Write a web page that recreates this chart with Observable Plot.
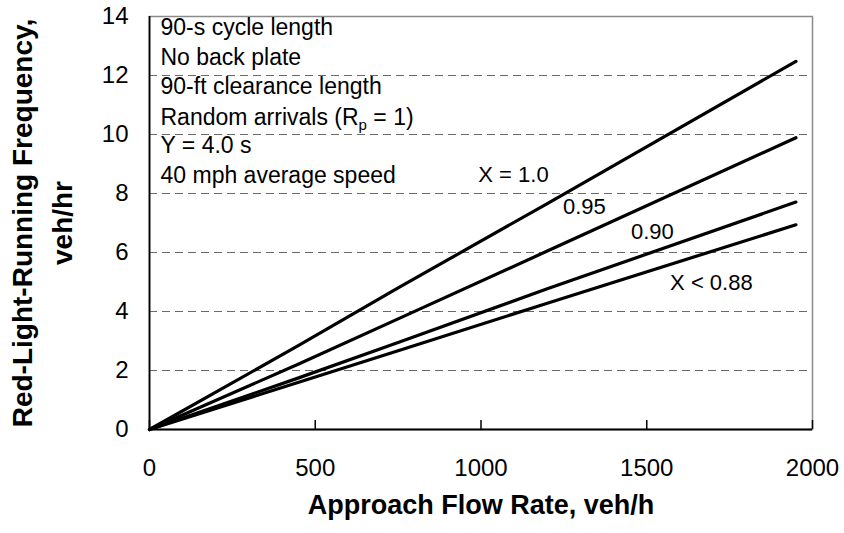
<!DOCTYPE html>
<html>
<head>
<meta charset="utf-8">
<script src="https://cdn.jsdelivr.net/npm/d3@7"></script>
<script src="https://cdn.jsdelivr.net/npm/@observablehq/plot@0.6"></script>
<style>
  html, body { margin: 0; padding: 0; background: #fff; }
  #chart { width: 844px; height: 533px; }
</style>
</head>
<body>
<div id="chart"></div>
<script>
// ---- data ----
const flowRate = [0, 450, 750, 1200, 1950];
const seriesNames = ["X = 1.0", "X = 0.95", "X = 0.90", "X < 0.88"];
const rlrX100 = [0, 2.85, 4.8, 7.66, 12.48];
const rlrX095 = [0, 2.22, 3.75, 6.05, 9.89];
const rlrX090 = [0, 1.75, 2.95, 4.77, 7.71];
const rlrX088 = [0, 1.6, 2.67, 4.28, 6.94];

const curveLabels = ["X = 1.0", "0.95", "0.90", "X < 0.88"];
const curveLabelX = [1098, 1312, 1517, 1695];
const curveLabelY = [8.64, 7.56, 6.68, 4.98];

const notesText = ["90-s cycle length", "No back plate", "90-ft clearance length",
                   "Random arrivals (Rp = 1)", "Y = 4.0 s", "40 mph average speed"];
const notesY = [13.63, 12.61, 11.63, 10.58, 9.63, 8.61];

const xTicks = [0, 500, 1000, 1500, 2000];
const yTicks = [0, 2, 4, 6, 8, 10, 12, 14];
const gridY = [2, 4, 6, 8, 10, 12];

const xLabel = "Approach Flow Rate, veh/h";
const yLabel1 = "Red-Light-Running Frequency,";
const yLabel2 = "veh/hr";

// ---- build tables ----
const allSeries = [rlrX100, rlrX095, rlrX090, rlrX088];
const rows = [];
allSeries.forEach((vals, i) => vals.forEach((v, j) => rows.push({series: seriesNames[i], flow: flowRate[j], rlr: v})));
const labelRows = curveLabels.map((t, i) => ({text: t, x: curveLabelX[i], y: curveLabelY[i]}));
const noteRows = notesText.map((t, i) => ({text: t, y: notesY[i]}));

const FONT = "'Liberation Sans', Arial, Helvetica, sans-serif";

const plot = Plot.plot({
  width: 844,
  height: 533,
  marginLeft: 149,
  marginRight: 32,
  marginTop: 16,
  marginBottom: 104,
  style: {fontFamily: FONT, fontSize: "22px", background: "#fff", color: "#000"},
  x: {domain: [0, 2000], axis: null},
  y: {domain: [0, 14], axis: null},
  marks: [
    Plot.ruleY(gridY, {stroke: "#6a6a6a", strokeWidth: 1.2, strokeDasharray: "8,5"}),
    Plot.frame({stroke: "#8a8a8a", strokeWidth: 1.5}),
    Plot.ruleX([0], {stroke: "#000", strokeWidth: 1.8}),
    Plot.ruleY([0], {stroke: "#000", strokeWidth: 1.8}),
    Plot.axisX(xTicks, {anchor: "bottom", tickSize: -9, tickFormat: () => "", strokeWidth: 1.5, label: null}),
    Plot.line(rows, {x: "flow", y: "rlr", z: "series", stroke: "#000", strokeWidth: 3.2, strokeLinejoin: "round", strokeLinecap: "round"}),
    Plot.text(xTicks, {x: d => d, frameAnchor: "bottom", dy: 46, text: d => String(d), fontSize: 24, fill: "#000"}),
    Plot.text(yTicks, {y: d => d, frameAnchor: "left", dx: -21, textAnchor: "end", text: d => String(d), fontSize: 24, fill: "#000"}),
    Plot.text(labelRows, {x: "x", y: "y", text: "text", fontSize: 22, fill: "#000"}),
    Plot.text(noteRows, {x: () => 0, y: "y", dx: 11, textAnchor: "start", text: "text", fontSize: 23, fill: "#000"}),
    Plot.text([xLabel], {frameAnchor: "bottom", dy: 84, text: d => d, fontSize: 27, fontWeight: "bold", fill: "#000"}),
    Plot.text([yLabel1], {frameAnchor: "left", dx: -126, rotate: -90, textAnchor: "middle", text: d => d, fontSize: 28, fontWeight: "bold", fill: "#000"}),
    Plot.text([yLabel2], {frameAnchor: "left", dx: -86, rotate: -90, textAnchor: "middle", text: d => d, fontSize: 28, fontWeight: "bold", fill: "#000"})
  ]
});

// subscript p in "(Rp = 1)"
plot.querySelectorAll("text").forEach(t => {
  if (t.textContent === "Random arrivals (Rp = 1)") {
    t.textContent = "";
    const ns = "http://www.w3.org/2000/svg";
    const a = document.createElementNS(ns, "tspan"); a.textContent = "Random arrivals (R";
    const b = document.createElementNS(ns, "tspan"); b.textContent = "p"; b.setAttribute("font-size", "15"); b.setAttribute("dy", "5");
    const c = document.createElementNS(ns, "tspan"); c.textContent = " = 1)"; c.setAttribute("dy", "-5");
    t.append(a, b, c);
  }
});

document.getElementById("chart").append(plot);
</script>
</body>
</html>
